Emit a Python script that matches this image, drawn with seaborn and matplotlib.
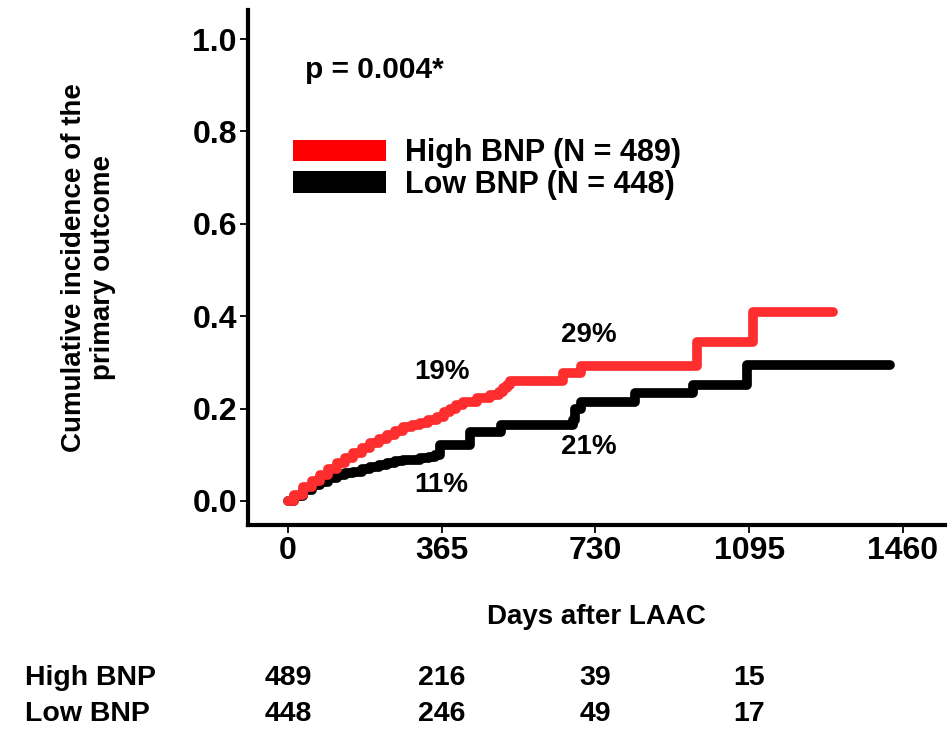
import matplotlib
matplotlib.use("Agg")
import matplotlib.pyplot as plt
import matplotlib.transforms as mtransforms
from matplotlib.patches import Patch
import seaborn as sns
import pandas as pd

# ---- data ----
high_days = [0, 15, 36, 56, 76, 96, 116, 135, 155, 175, 195, 215, 234, 254, 274, 295, 313,
             333, 353, 370, 385, 400, 416, 448, 480, 500, 511, 520, 527, 654, 695, 970, 1105, 1295]
high_inc = [0.0, 0.012, 0.031, 0.044, 0.056, 0.069, 0.082, 0.092, 0.103, 0.114, 0.125, 0.134,
            0.143, 0.152, 0.161, 0.165, 0.168, 0.175, 0.182, 0.192, 0.200, 0.208, 0.215, 0.222,
            0.229, 0.237, 0.244, 0.251, 0.260, 0.278, 0.292, 0.345, 0.410, 0.410]
low_days = [0, 15, 36, 56, 76, 96, 116, 135, 155, 175, 195, 215, 234, 254, 274, 313, 335, 349,
            362, 432, 505, 676, 681, 695, 824, 962, 1090, 1430]
low_inc = [0.0, 0.010, 0.024, 0.034, 0.042, 0.050, 0.056, 0.060, 0.063, 0.069, 0.074, 0.078,
           0.082, 0.086, 0.089, 0.092, 0.096, 0.100, 0.122, 0.150, 0.165, 0.175, 0.200, 0.215,
           0.233, 0.251, 0.294, 0.294]

group_names = ["High BNP", "Low BNP"]
group_n = [489, 448]
x_ticks = [0, 365, 730, 1095, 1460]
y_ticks = [0.0, 0.2, 0.4, 0.6, 0.8, 1.0]
risk_days = [0, 365, 730, 1095]
risk_high = [489, 216, 39, 15]
risk_low = [448, 246, 49, 17]
pct_labels = ["19%", "11%", "29%", "21%"]
pct_x = [365, 365, 715, 715]
pct_y = [0.279, 0.035, 0.359, 0.117]
p_text = "p = 0.004*"

line_red = "#ff2e2e"
legend_red = "#ff0000"

sns.set_theme(style="ticks")
plt.rcParams["font.family"] = ["Liberation Sans", "DejaVu Sans"]
plt.rcParams["font.weight"] = "bold"
plt.rcParams["text.color"] = "black"
plt.rcParams["axes.labelcolor"] = "black"
plt.rcParams["xtick.color"] = "black"
plt.rcParams["ytick.color"] = "black"

df = pd.concat([
    pd.DataFrame({"day": high_days, "inc": high_inc, "grp": group_names[0]}),
    pd.DataFrame({"day": low_days, "inc": low_inc, "grp": group_names[1]}),
], ignore_index=True)

W, H = 949, 729
fig = plt.figure(figsize=(W / 100, H / 100), dpi=100)
ax = fig.add_axes([248 / W, 1 - 525 / H, (945 - 248) / W, (525 - 10) / H])

sns.lineplot(data=df[df.grp == group_names[1]], x="day", y="inc", color="black",
             linewidth=7, drawstyle="steps-post", ax=ax, legend=False,
             solid_capstyle="round", solid_joinstyle="round", estimator=None)
sns.lineplot(data=df[df.grp == group_names[0]], x="day", y="inc", color=line_red,
             linewidth=7, drawstyle="steps-post", ax=ax, legend=False,
             solid_capstyle="round", solid_joinstyle="round", estimator=None)

ax.set_xlim(-95, 1560)
ax.set_ylim(-0.052, 1.063)
ax.set_xticks(x_ticks)
ax.set_xticklabels([str(v) for v in x_ticks])
ax.set_yticks(y_ticks)
ax.set_yticklabels([f"{v:.1f}" for v in y_ticks])
ax.tick_params(axis="both", labelsize=23, length=6, width=1.3, pad=2, color="black",
               labelcolor="black")
for lbl in ax.get_xticklabels() + ax.get_yticklabels():
    lbl.set_fontweight("bold")
sns.despine(ax=ax)
for s in ["left", "bottom"]:
    ax.spines[s].set_linewidth(3)
    ax.spines[s].set_color("black")
ax.grid(False)

ax.set_xlabel("Days after LAAC", fontsize=20, fontweight="bold", color="black")
ax.xaxis.set_label_coords(0.5, -0.153)
ax.set_ylabel("Cumulative incidence of the\nprimary outcome", fontsize=20,
              fontweight="bold", color="black", linespacing=1.15)
ax.yaxis.set_label_coords(-0.19, 0.5)

ax.text(0.082, 0.883, p_text, transform=ax.transAxes, fontsize=21.5, fontweight="bold",
        va="center", ha="left", color="black")

for t, xx, yy in zip(pct_labels, pct_x, pct_y):
    ax.text(xx, yy, t, fontsize=20, fontweight="bold", ha="center", va="center",
            color="black")

handles = [Patch(facecolor=legend_red, edgecolor="none"),
           Patch(facecolor="black", edgecolor="none")]
labels = [f"{g} (N = {n})" for g, n in zip(group_names, group_n)]
leg = ax.legend(handles, labels, loc="upper left",
                bbox_to_anchor=(293 / W, 1 - 138 / H), bbox_transform=fig.transFigure,
                frameon=False, fontsize=22, handlelength=3.05, handleheight=0.7,
                handletextpad=0.62, labelspacing=0.05, borderpad=0, borderaxespad=0)
for txt in leg.get_texts():
    txt.set_fontweight("bold")
    txt.set_color("black")

# number-at-risk table
trans = mtransforms.blended_transform_factory(ax.transData, fig.transFigure)
row_y = [1 - 678 / H, 1 - 714 / H]
for name, yy in zip(group_names, row_y):
    fig.text(25 / W, yy, name, fontsize=20.5, fontweight="bold", ha="left", va="center",
             color="black")
for counts, yy in zip([risk_high, risk_low], row_y):
    for d, c in zip(risk_days, counts):
        ax.text(d, yy, str(c), transform=trans, fontsize=20.5, fontweight="bold",
                ha="center", va="center", clip_on=False, color="black")

fig.savefig("out.png", dpi=100)
